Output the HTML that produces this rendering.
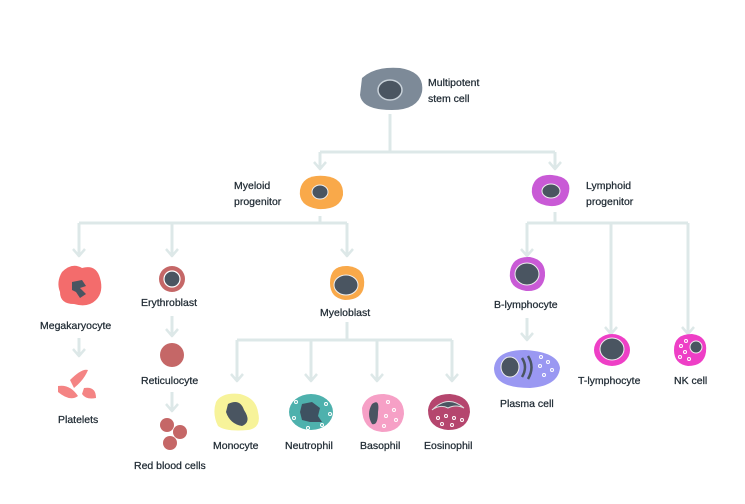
<!DOCTYPE html>
<html><head><meta charset="utf-8"><style>
html,body{margin:0;padding:0;background:#fff;}
svg{display:block}
text{font-family:"Liberation Sans",sans-serif;font-size:10.5px;fill:#1f2a33;stroke:#1f2a33;stroke-width:0.25;}
</style></head><body>
<svg width="745" height="504" viewBox="0 0 745 504">
<g stroke="#dde8e8" stroke-width="3" fill="none" stroke-linejoin="round">
<path d="M390,114 V152 M320,152 H555"/>
<path d="M320,152 V169 M555,152 V169"/>
<path d="M320,216 V223 M79,223 H347"/>
<path d="M79,223 V256 M172,223 V256 M347,223 V256"/>
<path d="M79,338 V356 M172,316 V336 M172,392 V411"/>
<path d="M347,322 V340 M237,340 H452"/>
<path d="M237,340 V381 M311,340 V381 M377,340 V381 M452,340 V381"/>
<path d="M555,212 V223 M527,223 H688"/>
<path d="M527,223 V256 M611,223 V334 M688,223 V334 M527,318 V340"/>
<g stroke-width="2.5">
<path d="M314,162 L320,169 L326,162"/><path d="M549,162 L555,169 L561,162"/>
<path d="M73,249 L79,256 L85,249"/><path d="M166,249 L172,256 L178,249"/><path d="M341,249 L347,256 L353,249"/>
<path d="M73,349 L79,356 L85,349"/><path d="M166,329 L172,336 L178,329"/><path d="M166,404 L172,411 L178,404"/>
<path d="M231,374 L237,381 L243,374"/><path d="M305,374 L311,381 L317,374"/><path d="M371,374 L377,381 L383,374"/><path d="M446,374 L452,381 L458,374"/>
<path d="M521,249 L527,256 L533,249"/><path d="M605,327 L611,334 L617,327"/><path d="M682,327 L688,334 L694,327"/><path d="M521,333 L527,340 L533,333"/>
</g>
</g>
<!-- stem -->
<path d="M362,78 Q375,66 400,68 Q425,72 422,92 Q418,110 392,110 Q362,110 360,95 Z" fill="#7d8a98"/>
<ellipse cx="390" cy="90" rx="12" ry="10" fill="#4a5561" stroke="#c9d2da" stroke-width="1.5"/>
<text x="428" y="86">Multipotent</text><text x="428" y="102">stem cell</text>
<!-- myeloid -->
<path d="M300,190 Q303,174 325,176 Q344,178 343,195 Q340,210 318,209 Q298,206 300,190Z" fill="#f9a94a"/>
<ellipse cx="320" cy="192" rx="8" ry="7" fill="#4a5561" stroke="#eee" stroke-width="1"/>
<text x="234" y="189">Myeloid</text><text x="234" y="205">progenitor</text>
<!-- lymphoid -->
<path d="M532,188 Q535,174 552,175 Q572,177 569,192 Q566,207 550,206 Q530,204 532,188Z" fill="#c95ad6"/>
<ellipse cx="551" cy="191" rx="9" ry="7" fill="#4a5561" stroke="#eee" stroke-width="1"/>
<text x="586" y="189">Lymphoid</text><text x="586" y="205">progenitor</text>
<!-- megakaryocyte -->
<path d="M62,272 Q72,262 82,268 Q96,264 100,278 Q104,292 96,300 Q88,308 74,304 Q60,304 60,292 Q56,282 62,272Z" fill="#f36c6c"/>
<path d="M72,282 L82,280 L86,286 L80,288 L86,294 L80,298 L76,292 L72,290Z" fill="#4a5561"/>
<text x="40" y="329">Megakaryocyte</text>
<!-- platelets -->
<path d="M70,380 Q82,368 88,370 Q84,380 74,388Z" fill="#f26f6f" opacity=".85"/>
<path d="M58,386 Q70,384 78,396 Q70,402 58,392Z" fill="#f26f6f" opacity=".85"/>
<path d="M84,388 Q96,386 96,398 Q86,400 82,394Z" fill="#f26f6f" opacity=".85"/>
<text x="58" y="423">Platelets</text>
<!-- erythroblast -->
<circle cx="172" cy="279" r="13" fill="#c56767"/><circle cx="172" cy="279" r="8" fill="#4a5561" stroke="#fff" stroke-width="1.2"/>
<text x="141" y="306">Erythroblast</text>
<circle cx="172" cy="355" r="12" fill="#c56767"/>
<text x="141" y="384">Reticulocyte</text>
<circle cx="167" cy="425" r="7" fill="#c56767"/><circle cx="180" cy="432" r="7" fill="#c56767"/><circle cx="170" cy="443" r="7" fill="#c56767"/>
<text x="134" y="469">Red blood cells</text>
<!-- myeloblast -->
<path d="M330,283 Q330,265 348,266 Q366,268 364,286 Q362,300 345,300 Q330,298 330,283Z" fill="#f9a94a"/>
<ellipse cx="346" cy="285" rx="12" ry="10" fill="#4a5561" stroke="#eee" stroke-width="1"/>
<text x="320" y="316">Myeloblast</text>
<!-- monocyte -->
<path d="M216,402 Q222,392 240,394 Q256,398 258,412 Q262,428 248,430 Q226,432 218,426 Q212,414 216,402Z" fill="#f7f39a"/>
<path d="M228,404 Q240,398 244,410 Q252,422 242,426 Q230,424 226,412Z" fill="#4a5561"/>
<text x="213" y="449">Monocyte</text>
<!-- neutrophil -->
<ellipse cx="311" cy="412" rx="22" ry="18" fill="#4eb1ad"/>
<path d="M302,404 L312,402 L320,408 L318,416 L322,422 L310,422 L302,420 L300,412Z" fill="#3e5161"/>
<g fill="none" stroke="#fff" stroke-width="1"><circle cx="296" cy="402" r="1.5"/><circle cx="326" cy="404" r="1.5"/><circle cx="330" cy="414" r="1.5"/><circle cx="294" cy="418" r="1.5"/><circle cx="308" cy="428" r="1.5"/><circle cx="322" cy="425" r="1.5"/></g>
<text x="285" y="449">Neutrophil</text>
<!-- basophil -->
<path d="M362,408 Q366,394 384,394 Q404,396 404,414 Q402,432 382,432 Q362,430 362,408Z" fill="#f6a0c6"/>
<path d="M372,404 Q380,398 378,412 Q378,426 372,424 Q366,414 372,404Z" fill="#4a5561"/>
<g fill="none" stroke="#fff" stroke-width="1"><circle cx="388" cy="402" r="1.5"/><circle cx="394" cy="410" r="1.5"/><circle cx="386" cy="416" r="1.5"/><circle cx="396" cy="420" r="1.5"/><circle cx="384" cy="426" r="1.5"/></g>
<text x="360" y="449">Basophil</text>
<!-- eosinophil -->
<path d="M428,410 Q430,394 450,394 Q470,396 470,412 Q468,430 448,430 Q428,428 428,410Z" fill="#b5466e"/>
<path d="M432,410 Q448,394 464,408 Q456,404 448,408 Q440,404 432,410Z" fill="#4a5561" stroke="#ddd" stroke-width="1"/>
<g fill="none" stroke="#fff" stroke-width="1"><circle cx="438" cy="418" r="1.5"/><circle cx="446" cy="416" r="1.5"/><circle cx="454" cy="418" r="1.5"/><circle cx="462" cy="420" r="1.5"/><circle cx="442" cy="424" r="1.5"/><circle cx="452" cy="425" r="1.5"/></g>
<text x="424" y="449">Eosinophil</text>
<!-- B-lymph -->
<path d="M510,272 Q512,256 530,257 Q546,260 545,276 Q543,292 526,291 Q508,288 510,272Z" fill="#c95ad6"/>
<ellipse cx="527" cy="274" rx="12" ry="11" fill="#4a5561" stroke="#eee" stroke-width="1"/>
<text x="494" y="308">B-lymphocyte</text>
<!-- plasma -->
<path d="M494,368 Q496,350 525,350 Q558,352 560,368 Q558,386 530,388 Q494,388 494,368Z" fill="#9a98f2"/>
<ellipse cx="510" cy="367" rx="9" ry="10" fill="#4a5561" stroke="#eee" stroke-width="1"/>
<path d="M522,358 Q528,367 522,377 M528,356 Q535,367 528,379" stroke="#4a5561" stroke-width="2.5" fill="none"/>
<g fill="none" stroke="#fff" stroke-width="1"><circle cx="541" cy="357" r="1.5"/><circle cx="548" cy="362" r="1.5"/><circle cx="540" cy="366" r="1.5"/><circle cx="552" cy="370" r="1.5"/><circle cx="544" cy="375" r="1.5"/></g>
<text x="500" y="407">Plasma cell</text>
<!-- T -->
<ellipse cx="612" cy="350" rx="18" ry="16" fill="#ee3fc6"/>
<ellipse cx="612" cy="349" rx="12" ry="11" fill="#4a5561" stroke="#eee" stroke-width="1"/>
<text x="578" y="384">T-lymphocyte</text>
<!-- NK -->
<path d="M674,350 Q674,334 692,334 Q708,336 706,352 Q704,366 688,366 Q674,364 674,350Z" fill="#ee3fc6"/>
<circle cx="696" cy="347" r="6" fill="#4a5561" stroke="#eee" stroke-width="1"/>
<g fill="none" stroke="#fff" stroke-width="1"><circle cx="681" cy="346" r="1.5"/><circle cx="685" cy="352" r="1.5"/><circle cx="680" cy="357" r="1.5"/><circle cx="689" cy="359" r="1.5"/><circle cx="686" cy="341" r="1.5"/></g>
<text x="674" y="384">NK cell</text>
</svg>
</body></html>
